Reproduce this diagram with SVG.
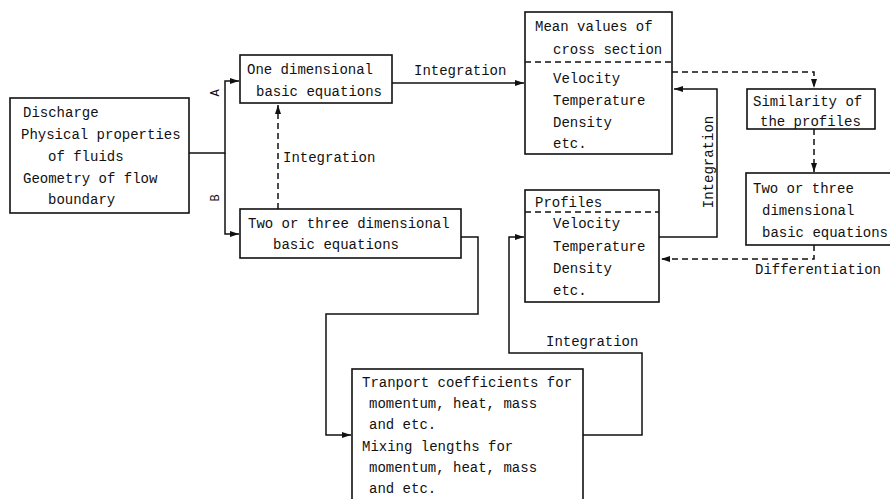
<svg xmlns="http://www.w3.org/2000/svg" width="890" height="499" viewBox="0 0 890 499">
<defs>
<marker id="ah" markerWidth="10" markerHeight="8" refX="9" refY="4" orient="auto" markerUnits="userSpaceOnUse">
<path d="M0,1 L9,4 L0,7 Z" fill="#111"/>
</marker>
<style>
.box{fill:#fff;stroke:#111;stroke-width:1.6}
.t{font-family:"Liberation Mono","DejaVu Sans Mono",monospace;font-size:14px;fill:#111}
.s{font-family:"Liberation Mono","DejaVu Sans Mono",monospace;font-size:12px;fill:#111}
.c{fill:none;stroke:#111;stroke-width:1.5}
.d{fill:none;stroke:#111;stroke-width:1.5;stroke-dasharray:6,4}
.div{stroke:#111;stroke-width:1.4;stroke-dasharray:6,4}
</style>
</defs>
<rect width="890" height="499" fill="#fff"/>
<g id="connectors">
<path class="c" d="M189,153 H225 V81 H239" marker-end="url(#ah)"/>
<path class="c" d="M225,153 V234 H239" marker-end="url(#ah)"/>
<path class="c" d="M392,83 H524" marker-end="url(#ah)"/>
<path class="d" d="M278,209 V105" marker-end="url(#ah)"/>
<path class="c" d="M461,237 H478 V314 H326 V435 H351" marker-end="url(#ah)"/>
<path class="c" d="M583,435 H642 V353 H509 V237 H524" marker-end="url(#ah)"/>
<path class="c" d="M659,237 H717 V89 H674" marker-end="url(#ah)"/>
<path class="d" d="M672,72 H814 V88" marker-end="url(#ah)"/>
<path class="d" d="M814,129 V172" marker-end="url(#ah)"/>
<path class="d" d="M814,245 V259 H661" marker-end="url(#ah)"/>
<text class="s" transform="translate(219,93) rotate(-90)" text-anchor="middle">A</text>
<text class="s" transform="translate(219,198) rotate(-90)" text-anchor="middle">B</text>
<text class="t" x="414" y="75">Integration</text>
<text class="t" x="283" y="162">Integration</text>
<text class="t" transform="translate(713,162) rotate(-90)" text-anchor="middle">Integration</text>
<text class="t" x="546" y="346">Integration</text>
<text class="t" x="755" y="274">Differentiation</text>
</g>
<g id="inputs">
<rect class="box" x="10" y="98" width="179" height="115"/>
<text class="t" x="23" y="117">Discharge</text>
<text class="t" x="21" y="139">Physical properties</text>
<text class="t" x="48" y="161">of fluids</text>
<text class="t" x="23" y="183">Geometry of flow</text>
<text class="t" x="48" y="204">boundary</text>
</g>
<g id="one-dim">
<rect class="box" x="240" y="55" width="152" height="48"/>
<text class="t" x="247" y="74">One dimensional</text>
<text class="t" x="256" y="96">basic equations</text>
</g>
<g id="two-dim">
<rect class="box" x="240" y="209" width="221" height="49"/>
<text class="t" x="248" y="228">Two or three dimensional</text>
<text class="t" x="273" y="249">basic equations</text>
</g>
<g id="mean-values">
<rect class="box" x="525" y="12" width="147" height="142"/>
<line class="div" x1="525" y1="62" x2="672" y2="62"/>
<text class="t" x="535" y="31">Mean values of</text>
<text class="t" x="553" y="54">cross section</text>
<text class="t" x="553" y="83">Velocity</text>
<text class="t" x="553" y="105">Temperature</text>
<text class="t" x="553" y="127">Density</text>
<text class="t" x="553" y="148">etc.</text>
</g>
<g id="profiles">
<rect class="box" x="525" y="190" width="134" height="112"/>
<line class="div" x1="525" y1="212" x2="659" y2="212"/>
<text class="t" x="535" y="207">Profiles</text>
<text class="t" x="553" y="228">Velocity</text>
<text class="t" x="553" y="251">Temperature</text>
<text class="t" x="553" y="273">Density</text>
<text class="t" x="553" y="295">etc.</text>
</g>
<g id="similarity">
<rect class="box" x="747" y="89" width="128" height="40"/>
<text class="t" x="753" y="106">Similarity of</text>
<text class="t" x="760" y="126">the profiles</text>
</g>
<g id="two-dim-right">
<rect class="box" x="746" y="173" width="150" height="72"/>
<text class="t" x="753" y="193">Two or three</text>
<text class="t" x="762" y="215">dimensional</text>
<text class="t" x="762" y="237">basic equations</text>
</g>
<g id="transport">
<rect class="box" x="352" y="369" width="231" height="140"/>
<text class="t" x="362" y="387">Tranport coefficients for</text>
<text class="t" x="369" y="408">momentum, heat, mass</text>
<text class="t" x="369" y="429">and etc.</text>
<text class="t" x="362" y="451">Mixing lengths for</text>
<text class="t" x="369" y="472">momentum, heat, mass</text>
<text class="t" x="369" y="493">and etc.</text>
</g>
</svg>
